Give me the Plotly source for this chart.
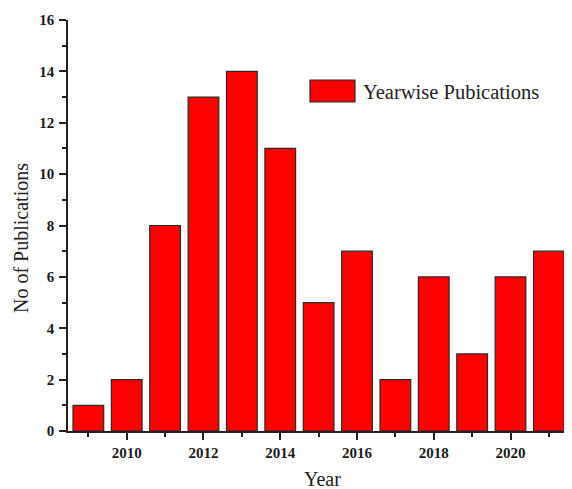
import plotly.graph_objects as go

years = [2009, 2010, 2011, 2012, 2013, 2014, 2015, 2016, 2017, 2018, 2019, 2020, 2021]
publications = [1, 2, 8, 13, 14, 11, 5, 7, 2, 6, 3, 6, 7]
series_name = "Yearwise Pubications"
x_title = "Year"
y_title = "No of Publications"

serif = "Liberation Serif, Times New Roman, serif"
OFF = 8  # page body margin in the browser
W, H = 572 - OFF, 489 - OFF
L, R, T, B = 68 - OFF, 2, 20 - OFF, 58
pw, ph = W - L - R, H - T - B

def px(x):
    return (x - OFF - L) / pw

def py(y):
    return (H - B - (y - OFF)) / ph

fig = go.Figure()
fig.add_trace(go.Bar(
    x=years, y=publications, name=series_name,
    marker=dict(color="#ff0000", line=dict(color="#2a2a2a", width=1.2)),
    width=0.8, showlegend=False,
))

# legend drawn as swatch + text
fig.add_shape(type="rect", xref="paper", yref="paper",
              x0=px(310), x1=px(355), y0=py(102), y1=py(80),
              fillcolor="#ff0000", line=dict(color="#2a2a2a", width=1.2))
fig.add_annotation(xref="paper", yref="paper", x=px(361), y=py(92),
                   text=series_name, showarrow=False, xanchor="left", yanchor="middle",
                   font=dict(family=serif, size=20.5, color="#222"))

# axis titles
fig.add_annotation(xref="paper", yref="paper", x=px(322), y=py(479),
                   text=x_title, showarrow=False, xanchor="center", yanchor="middle",
                   font=dict(family=serif, size=20, color="#222"))
fig.add_annotation(xref="paper", yref="paper", x=px(21), y=py(238),
                   text=y_title, showarrow=False, xanchor="center", yanchor="middle",
                   textangle=-90, font=dict(family=serif, size=20, color="#222"))

tickfont = dict(family=serif, size=15, color="#1a1a1a", weight="bold")

fig.update_layout(
    width=W, height=H,
    margin=dict(l=L, r=R, t=T, b=B, autoexpand=False),
    paper_bgcolor="white", plot_bgcolor="white",
    font=dict(family=serif, color="#222"),
    xaxis=dict(
        range=[2008.47, 2021.55], tickmode="linear", tick0=2010, dtick=2,
        ticks="outside", ticklen=7, tickwidth=1.5, tickcolor="#222",
        showline=True, linecolor="#222", linewidth=1.5, showgrid=False, zeroline=False,
        tickfont=tickfont, automargin=False, ticklabelstandoff=0,
        minor=dict(dtick=1, tick0=2009, ticks="outside", ticklen=4, tickwidth=1.5, tickcolor="#222", showgrid=False),
    ),
    yaxis=dict(
        range=[0, 16], tickmode="linear", tick0=0, dtick=2,
        ticks="outside", ticklen=7, tickwidth=1.5, tickcolor="#222",
        showline=True, linecolor="#222", linewidth=1.5, showgrid=False, zeroline=False,
        tickfont=tickfont, automargin=False, ticklabelstandoff=2,
        minor=dict(dtick=1, tick0=0, ticks="outside", ticklen=4, tickwidth=1.5, tickcolor="#222", showgrid=False),
    ),
)

fig.write_html("out.html")
